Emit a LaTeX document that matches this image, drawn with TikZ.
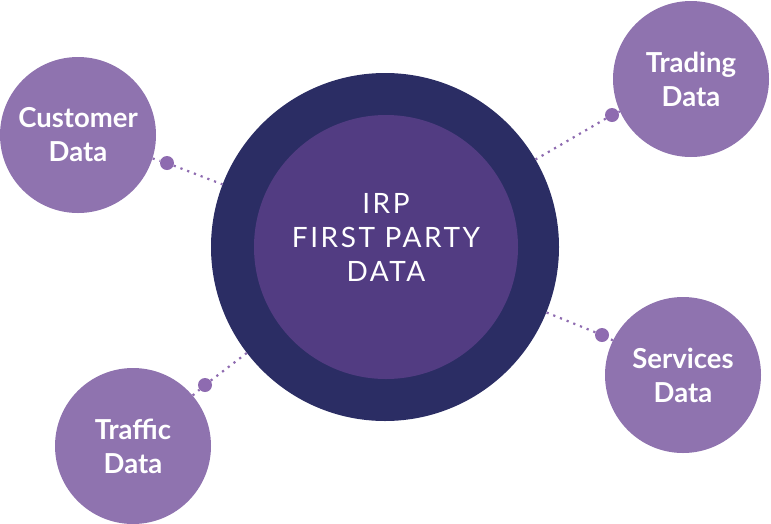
\documentclass[tikz,border=0pt]{standalone}
\usepackage{fontspec}
\setmainfont{Lato}
\newfontfamily\centerfont[LetterSpace=9]{Lato}
\begin{document}
\begin{tikzpicture}[x=1pt,y=-1pt,
  outerc/.style={circle,fill=navy,minimum size=348pt,inner sep=0pt},
  innerc/.style={circle,fill=innerpurple,minimum size=264pt,inner sep=0pt},
  ctext/.style={text=white,align=center,font=\centerfont\fontsize{28}{34}\selectfont},
  sat/.style={circle,fill=satpurple,minimum size=156pt,inner sep=0pt,text=white,align=center,font=\bfseries\fontsize{27.5}{34}\selectfont},
  knob/.style={circle,fill=dotpurple,minimum size=14pt,inner sep=0pt},
  link/.style={dotpurple,line width=2.2pt,dash pattern=on 2.2pt off 5pt}
]
\definecolor{navy}{HTML}{2B2D64}
\definecolor{innerpurple}{HTML}{523C82}
\definecolor{satpurple}{HTML}{8F73AF}
\definecolor{dotpurple}{HTML}{8E6BB0}
\useasboundingbox (0,0) rectangle (771,523);
\node[outerc] (outer) at (385,247) {};
\node[innerc] (inner) at (386,247) {};
\node[ctext] (label) at (386,237) {IRP\\FIRST PARTY\\DATA};
\node[sat] (cust) at (78,135) {Customer\\Data};
\node[sat] (trad) at (691,79) {Trading\\Data};
\node[sat] (serv) at (683,375) {Services\\Data};
\node[sat] (traf) at (133,446) {Traffic\\Data};
\node[knob] (dc) at (167,163) {};
\node[knob] (dt) at (612,115) {};
\node[knob] (ds) at (602,335) {};
\node[knob] (df) at (205,385) {};
\draw[link] (cust) -- (dc) -- (outer);
\draw[link] (trad) -- (dt) -- (outer);
\draw[link] (serv) -- (ds) -- (outer);
\draw[link] (traf) -- (df) -- (outer);
\end{tikzpicture}
\end{document}
